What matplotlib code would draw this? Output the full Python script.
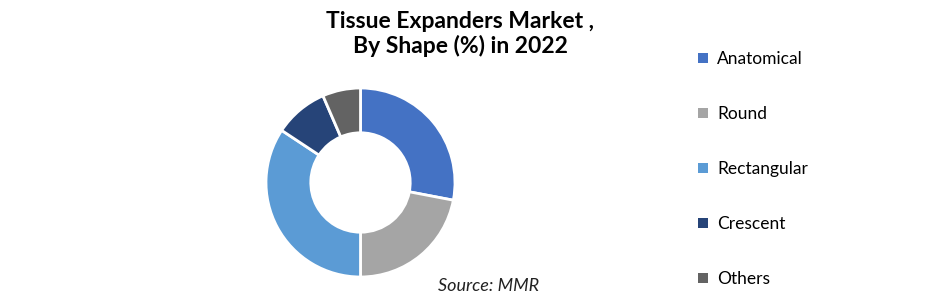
import matplotlib
matplotlib.use("Agg")
import matplotlib.pyplot as plt
from matplotlib.patches import Patch

#### Data
shapes = ["Anatomical", "Round", "Rectangular", "Crescent", "Others"]
shares = [28.0, 22.0, 34.3, 9.2, 6.5]
colors = ["#4472C4", "#A5A5A5", "#5B9BD5", "#264478", "#636363"]

title = "Tissue Expanders Market ,\nBy Shape (%) in 2022"
source = "Source: MMR"

plt.rcParams['font.family'] = ['Lato', 'DejaVu Sans']

W, H = 941, 305
fig = plt.figure(figsize=(W / 100, H / 100), dpi=100)

#### Donut
cx, cy, r = 360.5, 182.5, 94.5
ax = fig.add_axes([(cx - r) / W, (H - cy - r) / H, 2 * r / W, 2 * r / H])
ax.pie(shares, colors=colors, startangle=90, counterclock=False, radius=1.0,
       wedgeprops=dict(width=0.474, edgecolor="white", linewidth=2))
ax.set_xlim(-1.0, 1.0)
ax.set_ylim(-1.0, 1.0)
ax.axis("off")

#### Title / source
fig.text(460 / W, 1 - 34 / H, title, ha="center", va="center",
         fontsize=16.5, fontweight="bold", linespacing=1.18)
fig.text(489 / W, 1 - 286 / H, source, ha="center", va="center",
         fontsize=13, fontstyle="italic", color="#222222")

#### Legend
handles = [Patch(facecolor=c, edgecolor="none") for c in colors]
fig.legend(handles, shapes, loc="upper left", bbox_to_anchor=(698 / W, 1 - 51 / H),
           frameon=False, fontsize=12.5, handlelength=0.55, handleheight=0.55,
           handletextpad=0.55, labelspacing=2.25, borderaxespad=0, borderpad=0)

fig.savefig("out.png", dpi=100)
